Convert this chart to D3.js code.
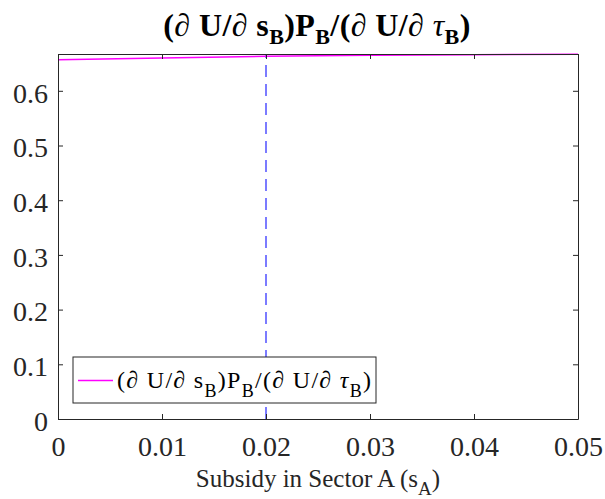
<!DOCTYPE html>
<html>
<head>
<meta charset="utf-8">
<script src="https://cdnjs.cloudflare.com/ajax/libs/d3/7.8.5/d3.min.js"></script>
<style>
  body { margin: 0; background: #fff; }
  svg text { font-family: "Liberation Serif", serif; }
</style>
</head>
<body>
<div id="chart"></div>
<script>
// data
var subsidyA = [0, 0.01, 0.02, 0.03, 0.04, 0.05];
var ratioB = [0.657, 0.660, 0.663, 0.665, 0.666, 0.667];
var xTicks = [0, 0.01, 0.02, 0.03, 0.04, 0.05];
var yTicks = [0, 0.1, 0.2, 0.3, 0.4, 0.5, 0.6];
var markerX = 0.02;

var width = 605, height = 499;
var m = { l: 58, r: 27, t: 54, b: 80 };
var serif = "'Liberation Serif', serif";

var svg = d3.select("#chart").append("svg")
    .attr("width", width)
    .attr("height", height);

var x = d3.scaleLinear().domain([0, 0.05]).range([m.l, width - m.r]);
var y = d3.scaleLinear().domain([0, 0.6673]).range([height - m.b, m.t]);

// dashed marker
svg.append("line")
    .attr("x1", x(markerX)).attr("x2", x(markerX))
    .attr("y1", y.range()[0]).attr("y2", y.range()[1])
    .attr("stroke", "#5050ff")
    .attr("stroke-width", 1.5)
    .attr("stroke-dasharray", "12,7");

// series line
var line = d3.line()
    .x(function(d, i) { return x(subsidyA[i]); })
    .y(function(d) { return y(d); });

svg.append("path")
    .datum(ratioB)
    .attr("d", line)
    .attr("fill", "none")
    .attr("stroke", "#ff00ff")
    .attr("stroke-width", 1.5);

// axes, box with inward ticks
var tickLen = 5;
var axisCol = "#262626";
function axisStyle(g) {
  g.attr("font-family", serif).attr("font-size", 28);
  g.select(".domain").attr("stroke", axisCol);
  g.selectAll(".tick line").attr("stroke", axisCol);
  g.selectAll("text").attr("fill", axisCol);
}

svg.append("g")
    .attr("transform", "translate(0," + y(0) + ")")
    .call(d3.axisBottom(x).tickValues(xTicks).tickSizeInner(-tickLen).tickSizeOuter(0)
      .tickPadding(17).tickFormat(function(d) { return d === 0 ? "0" : d3.format(".2f")(d); }))
    .call(axisStyle);

svg.append("g")
    .attr("transform", "translate(0," + y.range()[1] + ")")
    .call(d3.axisTop(x).tickValues(xTicks).tickSizeInner(-tickLen).tickSizeOuter(0).tickFormat(""))
    .call(axisStyle);

svg.append("g")
    .attr("transform", "translate(" + x(0) + ",0)")
    .call(d3.axisLeft(y).tickValues(yTicks).tickSizeInner(-tickLen).tickSizeOuter(0)
      .tickPadding(10).tickFormat(function(d) { return d === 0 ? "0" : d3.format(".1f")(d); }))
    .call(axisStyle)
    .selectAll("text").attr("dy", "0.4em");

svg.append("g")
    .attr("transform", "translate(" + x(0.05) + ",0)")
    .call(d3.axisRight(y).tickValues(yTicks).tickSizeInner(-tickLen).tickSizeOuter(0).tickFormat(""))
    .call(axisStyle);

// math-ish label with subscripts (tau drawn slanted like the symbol font)
function mathLabel(t, big, small, drop) {
  var parts = [["(\u2202 U/\u2202 s", 0], ["B", 1], [")P", 0], ["B", 1],
               ["/(\u2202 U/\u2202 ", 0], ["\u03c4", 2], ["B", 1], [")", 0]];
  var cur = 0;
  parts.forEach(function(p) {
    var sub = p[1] === 1;
    var dy = sub ? drop - cur : -cur;
    cur = sub ? drop : 0;
    var ts = t.append("tspan").attr("dy", dy).attr("font-size", sub ? small : big).text(p[0]);
    if (p[1] === 2) ts.attr("font-style", "italic").attr("font-weight", "normal");
  });
}

// title
var title = svg.append("text")
    .attr("x", 317)
    .attr("y", 36)
    .attr("text-anchor", "middle")
    .attr("font-family", serif)
    .attr("font-weight", "bold")
    .attr("letter-spacing", 0.4)
    .attr("fill", "#000");
mathLabel(title, 32, 22, 8);

// x label
var xl = svg.append("text")
    .attr("x", 318)
    .attr("y", 487)
    .attr("text-anchor", "middle")
    .attr("font-family", serif)
    .attr("font-size", 25)
    .attr("fill", "#262626");
xl.append("tspan").text("Subsidy in Sector A (s");
xl.append("tspan").attr("dy", 8).attr("font-size", 19).text("A");
xl.append("tspan").attr("dy", -8).text(")");

// legend
var lg = svg.append("g").attr("transform", "translate(73,357)");
lg.append("rect")
    .attr("width", 303).attr("height", 46)
    .attr("fill", "#fff")
    .attr("stroke", "#262626")
    .attr("stroke-width", 1);
lg.append("line")
    .attr("x1", 5).attr("x2", 40)
    .attr("y1", 23.5).attr("y2", 23.5)
    .attr("stroke", "#ff00ff").attr("stroke-width", 1.5);
var lt = lg.append("text")
    .attr("x", 44)
    .attr("y", 31)
    .attr("font-family", serif)
    .attr("letter-spacing", 1.3)
    .attr("fill", "#000");
mathLabel(lt, 24, 18, 9);
</script>
</body>
</html>
